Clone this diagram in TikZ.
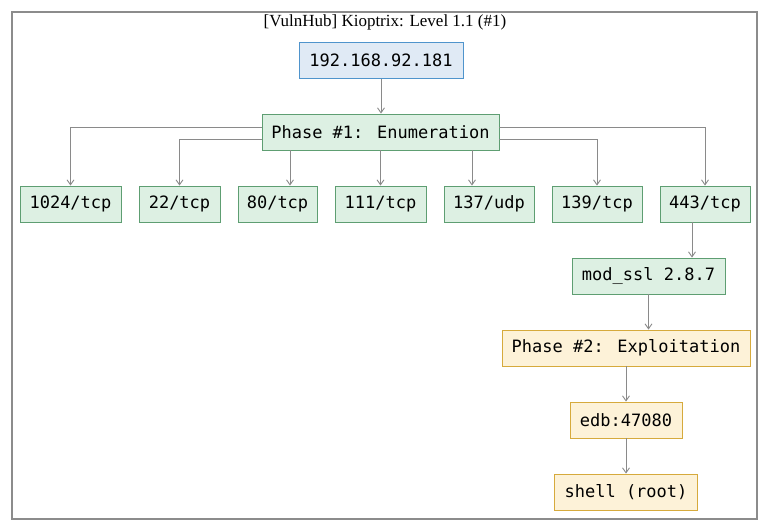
\documentclass[tikz,border=0pt]{standalone}
\usepackage{fontspec}
\setmainfont{Liberation Serif}
\newfontfamily\monofont{DejaVu Sans Mono}
\usetikzlibrary{arrows.meta}
\definecolor{gfill}{HTML}{DDF0E3}
\definecolor{gdraw}{HTML}{5E9E72}
\definecolor{bfill}{HTML}{E0EAF5}
\definecolor{bdraw}{HTML}{4F94CC}
\definecolor{yfill}{HTML}{FDF2D8}
\definecolor{ydraw}{HTML}{D6AA3C}
\definecolor{edgec}{HTML}{8A8A8A}
\definecolor{framec}{HTML}{8C8C8C}
\tikzset{
  box/.style={draw, line width=0.9pt, inner sep=0pt, minimum height=36pt,
    font=\monofont\fontsize{17}{20}\selectfont},
  gbox/.style={box, fill=gfill, draw=gdraw},
  bbox/.style={box, fill=bfill, draw=bdraw},
  ybox/.style={box, fill=yfill, draw=ydraw},
  edge/.style={draw=edgec, line width=0.9pt, -{Straight Barb[length=5pt,width=7pt]}},
}
\begin{document}
\begin{tikzpicture}[x=1pt,y=-1pt]
\useasboundingbox (0,0) rectangle (770,531);
\draw[framec, line width=1.2pt] (12,12) rectangle (757,519);
\node[font=\fontsize{17}{19}\selectfont] (title) at (385,22) {[VulnHub] Kioptrix: Level 1.1 (\#1)};
\node[bbox, minimum width=164pt] (ip) at (381,60.5) {192.168.92.181};
\node[gbox, minimum width=237pt] (ph1) at (380.5,132) {Phase \#1: Enumeration};
\node[gbox, minimum width=101pt] (p1024) at (70.5,204) {1024/tcp};
\node[gbox, minimum width=81pt] (p22) at (179.5,204) {22/tcp};
\node[gbox, minimum width=79pt] (p80) at (277.5,204) {80/tcp};
\node[gbox, minimum width=91pt] (p111) at (380.5,204) {111/tcp};
\node[gbox, minimum width=90pt] (p137) at (489,204) {137/udp};
\node[gbox, minimum width=90pt] (p139) at (597,204) {139/tcp};
\node[gbox, minimum width=90pt] (p443) at (705,204) {443/tcp};
\node[gbox, minimum width=153pt] (mod) at (648.5,276) {mod\_ssl 2.8.7};
\node[ybox, minimum width=248pt] (ph2) at (626,348) {Phase \#2: Exploitation};
\node[ybox, minimum width=112pt] (edb) at (626,420) {edb:47080};
\node[ybox, minimum width=143pt] (shell) at (626,492) {shell (root)};
\draw[edge] (ip.south) -- (ip.south |- ph1.north);
\draw[edge] ([yshift=5pt]ph1.west) -| (p1024.north);
\draw[edge] ([yshift=-7pt]ph1.west) -| (p22.north);
\draw[edge] ([xshift=12.5pt]p80.north |- ph1.south) -- ([xshift=12.5pt]p80.north);
\draw[edge] (p111.north |- ph1.south) -- (p111.north);
\draw[edge] ([xshift=-17pt]p137.north |- ph1.south) -- ([xshift=-17pt]p137.north);
\draw[edge] ([yshift=-7pt]ph1.east) -| (p139.north);
\draw[edge] ([yshift=5pt]ph1.east) -| (p443.north);
\draw[edge] ([xshift=-13pt]p443.south) -- ([xshift=-13pt]p443.south |- mod.north);
\draw[edge] (mod.south) -- (mod.south |- ph2.north);
\draw[edge] (ph2.south) -- (edb.north);
\draw[edge] (edb.south) -- (shell.north);
\end{tikzpicture}
\end{document}
